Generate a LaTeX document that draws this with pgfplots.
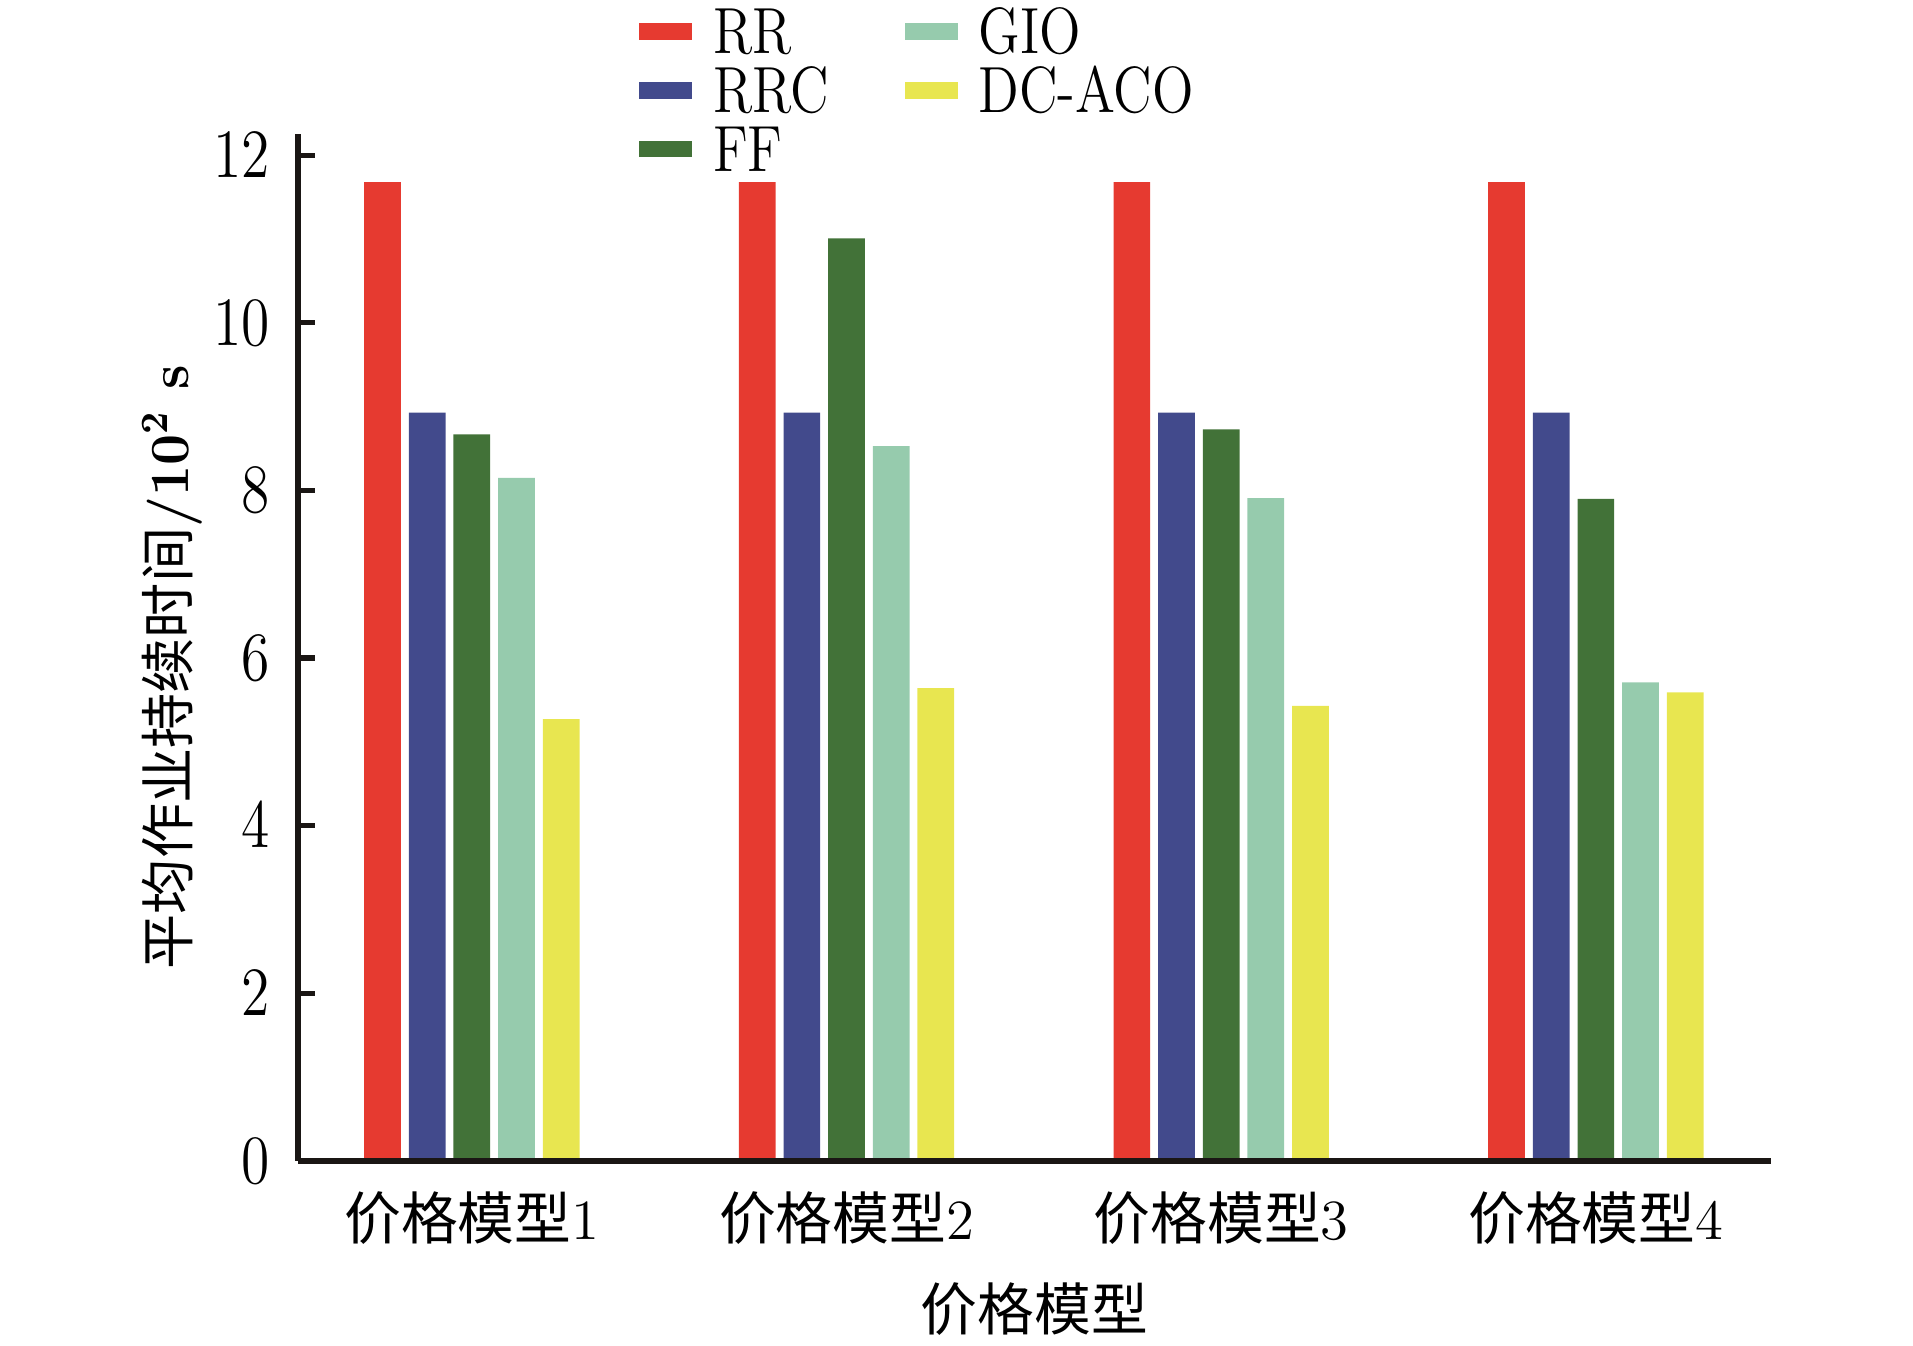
\documentclass[border=0pt]{standalone}
\usepackage{pgfplots}
\pgfplotsset{compat=1.18}
\usepackage{fontspec}
\newfontfamily\cjk{Noto Sans CJK SC}
\definecolor{cRR}{RGB}{230,58,48}
\definecolor{cRRC}{RGB}{66,74,140}
\definecolor{cFF}{RGB}{66,114,56}
\definecolor{cGIO}{RGB}{150,203,173}
\definecolor{cDC}{RGB}{232,230,80}
\definecolor{axc}{RGB}{26,22,20}
\newcommand{\vs}[1]{\scalebox{1}[1.2]{#1}}
\begin{document}
\begin{tikzpicture}
\useasboundingbox (0,0) rectangle (478.25pt,336.5pt);
\begin{axis}[
  at={(74.5pt,46.3pt)}, anchor=south west,
  scale only axis, width=368.2pt, height=256.6pt,
  xmin=0.536, xmax=4.467, ymin=0, ymax=12.25,
  enlargelimits=false,
  axis lines=left,
  axis line style={-, line width=1.4pt, axc},
  axis on top,
  ybar, bar width=0.098,
  xtick={1,2,3,4},
  xticklabels={{\cjk 价格模型}1,{\cjk 价格模型}2,{\cjk 价格模型}3,{\cjk 价格模型}4},
  xtick style={draw=none},
  ytick={0,2,4,6,8,10,12},
  ytick style={line width=1.3pt, axc},
  tick align=inside, major tick length=4.3pt,
  yticklabel={\vs{$\pgfmathprintnumber{\tick}$}},
  yticklabel style={font=\fontsize{13.3}{15}\selectfont, inner sep=0pt, xshift=-6.9pt},
  xticklabel style={font=\fontsize{14.2}{16}\selectfont, inner sep=0pt, yshift=-7.6pt, anchor=north},
  xlabel={{\cjk 价格模型}},
  xlabel style={font=\fontsize{14.2}{16}\selectfont, at={(axis description cs:0.5,-0.1440)}, anchor=center},
  ylabel={{\cjk 平均作业持续时间}\textbf{/10\textsuperscript{2} s}},
  ylabel style={font=\fontsize{13.8}{16}\selectfont, at={(axis description cs:-0.0855,0.481)}, anchor=center},
  legend columns=2,
  legend cell align=left,
  legend image code/.code={\path[#1, draw=none] (0pt,-2.1pt) rectangle (13.25pt,2.1pt);},
  legend style={draw=none, fill=none, at={(axis description cs:0.2318,1.1220)}, anchor=north west,
    inner sep=0pt, outer sep=0pt, font=\fontsize{13.6}{15}\selectfont, row sep=3.6pt,
    nodes={inner sep=0pt, text height=11.1pt, text depth=0pt},
    /tikz/every odd column/.append style={column sep=5.2pt},
    /tikz/every even column/.append style={column sep=19.0pt}},
]
\addplot[fill=cRR, draw=none, bar shift=-0.2384] coordinates {(1,11.68) (2,11.68) (3,11.68) (4,11.68)};
\addplot[fill=cGIO, draw=none, bar shift=0.1192] coordinates {(1,8.15) (2,8.53) (3,7.91) (4,5.71)};
\addplot[fill=cRRC, draw=none, bar shift=-0.1192] coordinates {(1,8.93) (2,8.93) (3,8.93) (4,8.93)};
\addplot[fill=cDC, draw=none, bar shift=0.2384] coordinates {(1,5.27) (2,5.64) (3,5.43) (4,5.59)};
\addplot[fill=cFF, draw=none, bar shift=0] coordinates {(1,8.67) (2,11.01) (3,8.73) (4,7.90)};
\legend{\vs{RR},\vs{GIO},\vs{RRC},\vs{DC-ACO},\vs{FF}}
\end{axis}
\end{tikzpicture}
\end{document}
